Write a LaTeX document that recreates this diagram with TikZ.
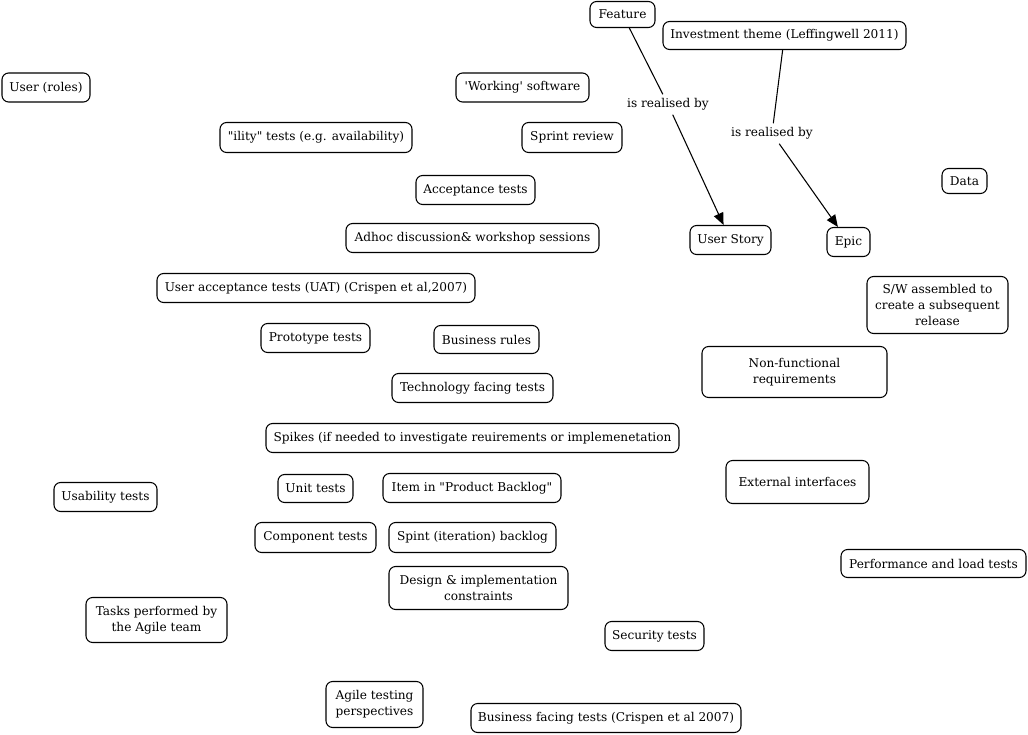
\documentclass[tikz,border=0pt]{standalone}
\usepackage{fontspec}
\setmainfont{DejaVu Serif}[Ligatures=TeXOff]
\usetikzlibrary{arrows.meta}
\tikzset{
  bx/.style n args={2}{draw, line width=0.8pt, rounded corners=5pt, inner sep=0pt,
    minimum width=#1*0.75pt, minimum height=#2*0.75pt, align=center,
    font=\fontsize{9.1pt}{12pt}\selectfont},
  lbl/.style={inner sep=3pt, font=\fontsize{9.1pt}{12pt}\selectfont},
  conn/.style={line width=0.8pt},
  arr/.style={conn, -{Triangle[width=7.5pt,length=9pt]}}
}
\begin{document}
\begin{tikzpicture}[x=0.75pt,y=-0.75pt]
\useasboundingbox (0,0) rectangle (1028,735);
\node[bx={65}{26}] (feature) at (622.5,14.5) {Feature};
\node[bx={243}{28}] (inv) at (784.5,35.5) {Investment theme (Leffingwell 2011)};
\node[bx={88}{29}] (user) at (46,87.5) {User (roles)};
\node[bx={133}{29}] (working) at (522.5,87.5) {'Working' software};
\node[bx={192}{30}] (ility) at (316,137.5) {"ility" tests (e.g. availability)};
\node[bx={100}{30}] (sprint) at (572,137.5) {Sprint review};
\node[bx={45}{25}] (data) at (964.5,181) {Data};
\node[bx={119}{29}] (accept) at (475.5,190) {Acceptance tests};
\node[bx={253}{29}] (adhoc) at (472.5,238) {Adhoc discussion\& workshop sessions};
\node[bx={81}{29}] (story) at (730.5,240) {User Story};
\node[bx={43}{29}] (epic) at (848.5,242) {Epic};
\node[bx={318}{29}] (uat) at (316,288) {User acceptance tests (UAT) (Crispen et al,2007)};
\node[bx={141}{57}] (sw) at (937.5,305) {S/W assembled to\\create a subsequent\\release};
\node[bx={109}{29}] (proto) at (315.5,338) {Prototype tests};
\node[bx={105}{28}] (rules) at (486.5,339.5) {Business rules};
\node[bx={185}{51}] (nonfunc) at (794.5,372) {Non-functional\\requirements};
\node[bx={161}{29}] (tech) at (472.5,388) {Technology facing tests};
\node[bx={413}{29}] (spikes) at (472.5,438) {Spikes (if needed to investigate reuirements or implemenetation};
\node[bx={143}{43}] (ext) at (797.5,482) {External interfaces};
\node[bx={103}{29}] (usab) at (105.5,497) {Usability tests};
\node[bx={75}{28}] (unit) at (315.5,488.5) {Unit tests};
\node[bx={178}{29}] (item) at (472,488) {Item in "Product Backlog"};
\node[bx={121}{30}] (comp) at (315.5,537.5) {Component tests};
\node[bx={167}{30}] (spint) at (472.5,537.5) {Spint (iteration) backlog};
\node[bx={185}{28}] (perf) at (933.5,563.5) {Performance and load tests};
\node[bx={179}{43}] (design) at (478.5,588) {Design \& implementation\\constraints};
\node[bx={141}{45}] (tasks) at (156.5,620) {Tasks performed by\\the Agile team};
\node[bx={99}{29}] (sec) at (654.5,636) {Security tests};
\node[bx={97}{46}] (agile) at (374.5,704.5) {Agile testing\\perspectives};
\node[bx={270}{29}] (bft) at (606,718) {Business facing tests (Crispen et al 2007)};
\node[lbl] (l1) at (668,104.5) {is realised by};
\node[lbl] (l2) at (772,133.5) {is realised by};
\draw[conn] (feature) -- (l1);
\draw[arr] (l1) -- (story);
\draw[conn] (inv) -- (l2);
\draw[arr] (l2) -- (epic);
\end{tikzpicture}
\end{document}
